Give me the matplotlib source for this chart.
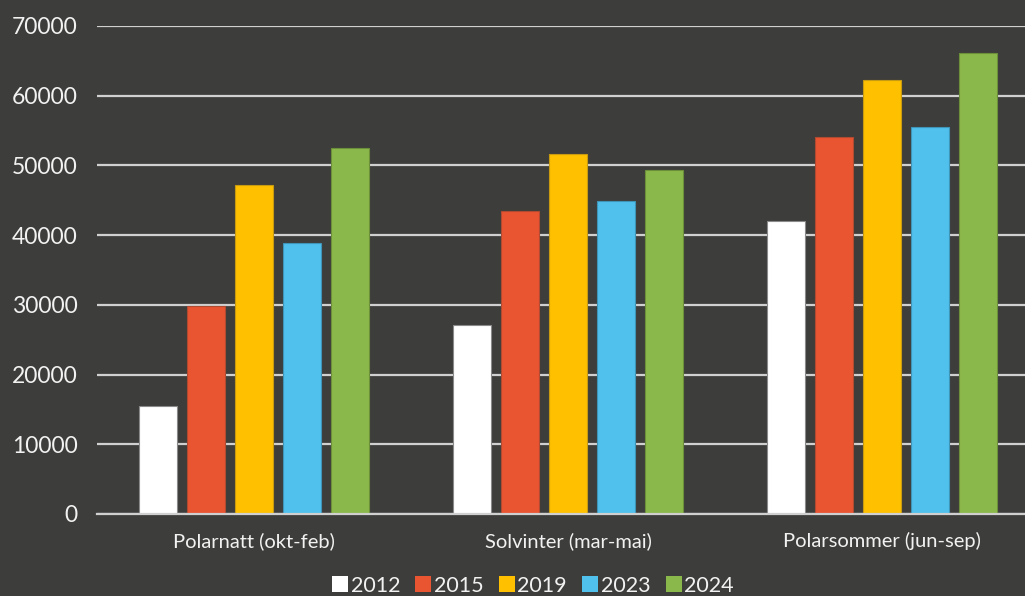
import numpy as np
import matplotlib.pyplot as plt
from matplotlib.patches import Patch

# data
categories = ["Polarnatt (okt-feb)", "Solvinter (mar-mai)", "Polarsommer (jun-sep)"]
years = ["2012", "2015", "2019", "2023", "2024"]
v2012 = [15500, 27100, 42000]
v2015 = [29900, 43500, 54100]
v2019 = [47200, 51600, 62300]
v2023 = [38900, 44900, 55500]
v2024 = [52500, 49300, 66100]
colors = ["#ffffff", "#e95431", "#ffc000", "#50c0ec", "#8bb84a"]
edges = ["#8a8a8a", "#b04a30", "#c89a10", "#3e95b8", "#6c8f3a"]

bg = "#3d3d3b"
plt.rcParams['font.family'] = ['Lato', 'DejaVu Sans']

fig = plt.figure(figsize=(10.25, 5.96), dpi=100, facecolor=bg)
# axes runs a bit past the right edge, like the original
ax = fig.add_axes([0.0946, 0.1376, 0.919, 0.8188])
ax.set_facecolor(bg)

x = np.arange(len(categories))
step = 0.153
width = 0.121
series = [v2012, v2015, v2019, v2023, v2024]
for i, vals in enumerate(series):
    ax.bar(x + (i - 2) * step, vals, width, color=colors[i],
           edgecolor=edges[i], linewidth=0.8, zorder=3, label=years[i])

ax.set_xlim(-0.5, 2.5)
ax.set_ylim(0, 70000)
ax.set_yticks(np.arange(0, 70001, 10000))
ax.yaxis.grid(True, color="#d0d0d0", linewidth=1.6, zorder=0)
ax.set_xticks(x)
ax.set_xticklabels(categories)
ax.tick_params(axis='y', length=0, pad=14, labelsize=16.5, labelcolor="#f2f2f2")
ax.tick_params(axis='x', length=0, pad=13, labelsize=14.5, labelcolor="#f2f2f2")
for s in ['top', 'right', 'left']:
    ax.spines[s].set_visible(False)
ax.spines['bottom'].set_color("#d0d0d0")
ax.spines['bottom'].set_linewidth(1.6)
ax.spines['bottom'].set_zorder(4)

handles = [Patch(facecolor=c, edgecolor='none') for c in colors]
leg = fig.legend(handles, years, loc='center', bbox_to_anchor=(0.52, 0.017),
                 ncol=5, frameon=False, fontsize=15.5, handlelength=0.75,
                 handleheight=0.75, handletextpad=0.12, columnspacing=0.7)
for t in leg.get_texts():
    t.set_color("#f2f2f2")

fig.savefig("out.png", dpi=100, facecolor=bg)
